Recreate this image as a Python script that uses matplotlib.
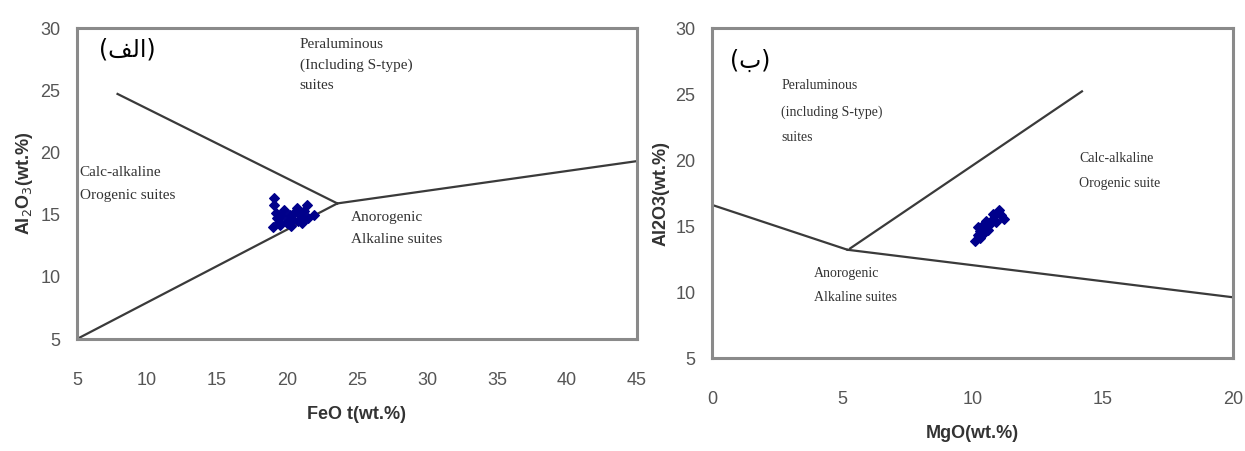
import matplotlib
matplotlib.use("Agg")
import matplotlib.pyplot as plt

# ---------------- data ----------------
# Panel (a): FeOt vs Al2O3
feo_x = [19.1, 19.1, 19.2, 19.0, 19.4, 19.6, 19.8, 20.0, 20.2, 20.4, 20.6, 20.8,
         21.0, 21.2, 21.4, 21.5, 21.9, 19.5, 20.1, 20.7, 19.3, 20.3, 21.1]
feo_al = [16.3, 15.8, 15.1, 14.0, 14.4, 14.9, 15.4, 14.3, 15.0, 14.6, 15.2, 14.5,
          14.9, 15.3, 15.8, 14.7, 15.0, 14.2, 14.6, 15.5, 14.7, 14.1, 14.3]
# boundary lines panel (a)
a_upper_x = [7.9, 23.6]
a_upper_y = [24.7, 15.9]
a_lower_x = [5.0, 23.6]
a_lower_y = [5.0, 15.9]
a_right_x = [23.6, 45.0]
a_right_y = [15.9, 19.3]

# Panel (b): MgO vs Al2O3
mgo_x = [10.1, 10.2, 10.3, 10.2, 10.4, 10.5, 10.6, 10.5, 10.7, 10.8, 10.9, 11.0,
         11.1, 11.2, 10.3, 10.6, 10.9, 10.4, 10.8]
mgo_al = [13.9, 14.3, 14.6, 14.9, 14.4, 14.8, 15.1, 15.4, 15.2, 15.5, 15.9, 16.2,
          15.8, 15.5, 14.1, 14.7, 15.3, 15.1, 15.9]
# boundary lines panel (b)
b_left_x = [0.0, 5.2]
b_left_y = [16.6, 13.2]
b_right_x = [5.2, 20.0]
b_right_y = [13.2, 9.6]
b_up_x = [5.3, 14.2]
b_up_y = [13.3, 25.2]

a_xticks = [5, 10, 15, 20, 25, 30, 35, 40, 45]
b_xticks = [0, 5, 10, 15, 20]
yticks = [5, 10, 15, 20, 25, 30]

# ---------------- figure ----------------
fig = plt.figure(figsize=(12.45, 4.51), dpi=100)
fig.patch.set_facecolor("white")

tick_font = ["Liberation Sans Narrow", "Liberation Sans", "DejaVu Sans"]
serif = ["Liberation Serif", "DejaVu Serif"]
frame_col = "#8a8a8a"
line_col = "#3a3a3a"
pt_col = "#00008b"


def style(ax, xlim, xt, xpad):
    ax.set_xlim(*xlim)
    ax.set_ylim(5, 30)
    ax.set_xticks(xt)
    ax.set_yticks(yticks)
    ax.tick_params(length=0, labelsize=13, colors="#555555")
    ax.tick_params(axis="x", pad=xpad)
    ax.tick_params(axis="y", pad=12)
    for lab in ax.get_xticklabels() + ax.get_yticklabels():
        lab.set_family(tick_font)
    for s in ax.spines.values():
        s.set_color(frame_col)
        s.set_linewidth(2.2)


# ----- panel (a) -----
ax1 = fig.add_axes([0.0618, 0.2483, 0.4498, 0.6896])
style(ax1, (5, 45), a_xticks, 24)
ax1.plot(a_upper_x, a_upper_y, color=line_col, lw=1.6)
ax1.plot(a_lower_x, a_lower_y, color=line_col, lw=1.6)
ax1.plot(a_right_x, a_right_y, color=line_col, lw=1.6)
ax1.scatter(feo_x, feo_al, marker="D", s=24, color=pt_col, zorder=3)
ax1.set_xlabel("FeO t(wt.%)", family=tick_font, fontsize=13, fontweight="bold",
               color="#333333", labelpad=12)
ax1.set_ylabel("Al$_2$O$_3$(wt.%)", family=tick_font, fontsize=13,
               fontweight="bold", color="#333333", labelpad=4)
ax1.text(0.04, 0.93, "(\uFED2\uFEDF\uFE8D)", transform=ax1.transAxes,
         family=["DejaVu Sans"], fontsize=17, ha="left", va="center")
ax1.text(20.9, 29.2, "Peraluminous\n(Including S-type)\nsuites", family=serif,
         fontsize=11, va="top", ha="left", linespacing=1.73, color="#333333")
ax1.text(5.2, 18.9, "Calc-alkaline\nOrogenic suites", family=serif,
         fontsize=11, va="top", ha="left", linespacing=1.98, color="#333333")
ax1.text(24.6, 15.3, "Anorogenic\nAlkaline suites", family=serif,
         fontsize=11, va="top", ha="left", linespacing=1.93, color="#333333")

# ----- panel (b) -----
ax2 = fig.add_axes([0.5719, 0.2062, 0.4185, 0.7317])
style(ax2, (0, 20), b_xticks, 24)
ax2.plot(b_left_x, b_left_y, color=line_col, lw=1.6)
ax2.plot(b_right_x, b_right_y, color=line_col, lw=1.6)
ax2.plot(b_up_x, b_up_y, color=line_col, lw=1.6)
ax2.scatter(mgo_x, mgo_al, marker="D", s=24, color=pt_col, zorder=3)
ax2.set_xlabel("MgO(wt.%)", family=tick_font, fontsize=13, fontweight="bold",
               color="#333333", labelpad=12)
ax2.set_ylabel("Al2O3(wt.%)", family=tick_font, fontsize=13,
               fontweight="bold", color="#333333", labelpad=4)
ax2.text(0.035, 0.90, "(\uFE8F)", transform=ax2.transAxes,
         family=["DejaVu Sans"], fontsize=17, ha="left", va="center")
ax2.text(2.65, 26.1, "Peraluminous\n(including S-type)\nsuites", family=serif,
         fontsize=10, va="top", ha="left", linespacing=2.22, color="#333333")
ax2.text(14.1, 20.6, "Calc-alkaline\nOrogenic suite", family=serif,
         fontsize=10, va="top", ha="left", linespacing=2.22, color="#333333")
ax2.text(3.9, 11.9, "Anorogenic\nAlkaline suites", family=serif,
         fontsize=10, va="top", ha="left", linespacing=2.1, color="#333333")

fig.savefig("out.png", dpi=100, facecolor="white")
